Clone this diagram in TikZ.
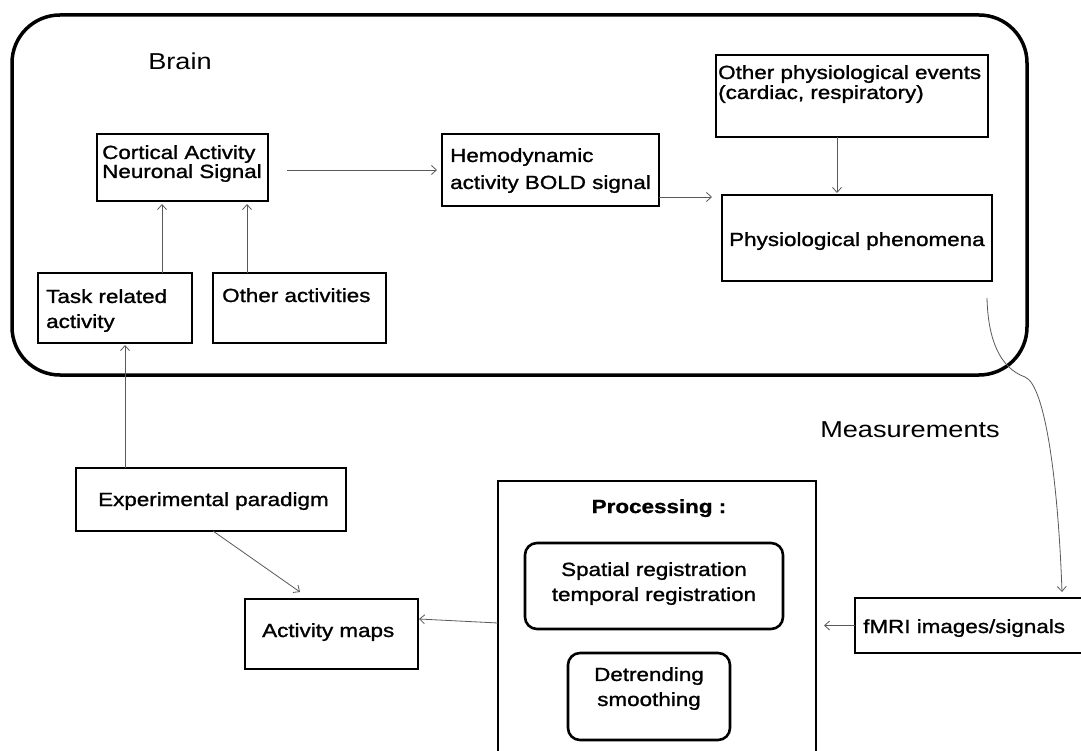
\documentclass[tikz,border=0pt]{standalone}
\usepackage{fontspec}
\setmainfont{Liberation Sans}[FakeStretch=1.18, FakeBold=1.2]
\newfontfamily\plainfont{Liberation Sans}[FakeStretch=1.18]
\usetikzlibrary{arrows.meta}
\tikzset{
  box/.style={draw, line width=2.6pt, inner sep=0pt, outer sep=0pt, anchor=north west},
  rbox/.style={box, rounded corners=12pt},
  txt/.style={inner sep=0pt, font=\fontsize{19}{19}\selectfont, align=left},
  big/.style={inner sep=0pt, font=\plainfont\fontsize{23}{23}\selectfont},
  arr/.style={draw=black!65, line width=0.8pt, -{Straight Barb[length=5pt,width=9pt]}}
}
\begin{document}
\begin{tikzpicture}[x=1pt,y=-1pt]
\useasboundingbox (0,0) rectangle (1081,751);
\fill[white] (0,0) rectangle (1081,751);

% Brain container
\node[box, line width=3.5pt, rounded corners=48pt, minimum width=1015pt, minimum height=360pt] (brain) at (12,15) {};
\node[big, anchor=base] (brainT) at (180,70) {Brain};

% boxes inside brain
\node[box, minimum width=171pt, minimum height=67pt] (cort) at (97,134) {};
\node[txt, anchor=north west] (cortT) at (102,145) {Cortical Activity\\Neuronal Signal};

\node[box, minimum width=154pt, minimum height=70pt] (task) at (38,273) {};
\node[txt, anchor=north west, font=\fontsize{19}{25}\selectfont] (taskT) at (46,289) {Task related\\activity};

\node[box, minimum width=173pt, minimum height=70pt] (other) at (213,273) {};
\node[txt, anchor=base west] (otherT) at (222,302) {Other activities};

\node[box, minimum width=217pt, minimum height=72pt] (hemo) at (442,134) {};
\node[txt, anchor=north west, font=\fontsize{19}{27}\selectfont] (hemoT) at (450,148) {Hemodynamic\\activity BOLD signal};

\node[box, minimum width=272pt, minimum height=82pt] (events) at (716,55) {};
\node[txt, anchor=north west, font=\fontsize{19}{20}\selectfont] (eventsT) at (718,65) {Other physiological events\\(cardiac, respiratory)};

\node[box, minimum width=270pt, minimum height=86pt] (phen) at (722,195) {};
\node[txt, anchor=base west] (phenT) at (729,246) {Physiological phenomena};

% lower part
\node[box, minimum width=270pt, minimum height=63pt] (exp) at (76,468) {};
\node[txt, anchor=base west] (expT) at (98,506) {Experimental paradigm};

\node[box, minimum width=173pt, minimum height=70pt] (amaps) at (245,599) {};
\node[txt, anchor=base west] (amapsT) at (262,637) {Activity maps};

\node[box, minimum width=318pt, minimum height=275pt] (proc) at (498,481) {};
\node[txt, anchor=base, font=\fontsize{19}{19}\selectfont\bfseries] (procT) at (659,513) {Processing :};

\node[rbox, minimum width=258pt, minimum height=86pt] (spatial) at (525,543) {};
\node[txt, anchor=north, align=center, font=\fontsize{19}{25}\selectfont] (spatialT) at (654,562) {Spatial registration\\temporal registration};

\node[rbox, minimum width=162pt, minimum height=87pt] (detrend) at (568,653) {};
\node[txt, anchor=north, align=center, font=\fontsize{19}{25}\selectfont] (detrendT) at (649,667) {Detrending\\smoothing};

\node[box, minimum width=235pt, minimum height=55pt] (fmri) at (855,598) {};
\node[txt, anchor=base west] (fmriT) at (863,633) {fMRI images/signals};

\node[big, anchor=base] (measT) at (910,437) {Measurements};

% connectors
\draw[arr] ([xshift=19pt,yshift=-2.5pt]cort.east) -- ([xshift=-5pt]hemo.west);
\draw[arr] ([yshift=9pt]hemo.south east) -- ([xshift=-10pt,yshift=-2pt]phen.north west);
\draw[arr] ([xshift=-15pt]events.south) -- ([xshift=-20pt,yshift=2pt]phen.north);
\draw[arr] ([xshift=47pt]task.north) -- ([xshift=-20.5pt,yshift=-3pt]cort.south);
\draw[arr] ([xshift=-52.5pt]other.north) -- ([xshift=64.5pt,yshift=-3pt]cort.south);
\draw[arr] ([xshift=-86pt]exp.north) -- ([xshift=10pt,yshift=-2pt]task.south);
\draw[arr] ([xshift=2pt]exp.south) -- ([xshift=-31.5pt,yshift=7pt]amaps.north);
\draw[arr] ([yshift=-4.5pt]proc.west) -- ([xshift=1pt,yshift=15pt]amaps.east);
\draw[arr] (fmri.west) -- ([xshift=8pt,yshift=-7pt]proc.east);
\coordinate (bend) at (1025,377);
\draw[arr] ([xshift=-5pt,yshift=-17pt]phen.south east) .. controls +(1,42) and +(-25,-9) .. (bend)
  .. controls +(20,8) and +(-4,-112) .. ([xshift=-28pt,yshift=6pt]fmri.north east);
\end{tikzpicture}
\end{document}
